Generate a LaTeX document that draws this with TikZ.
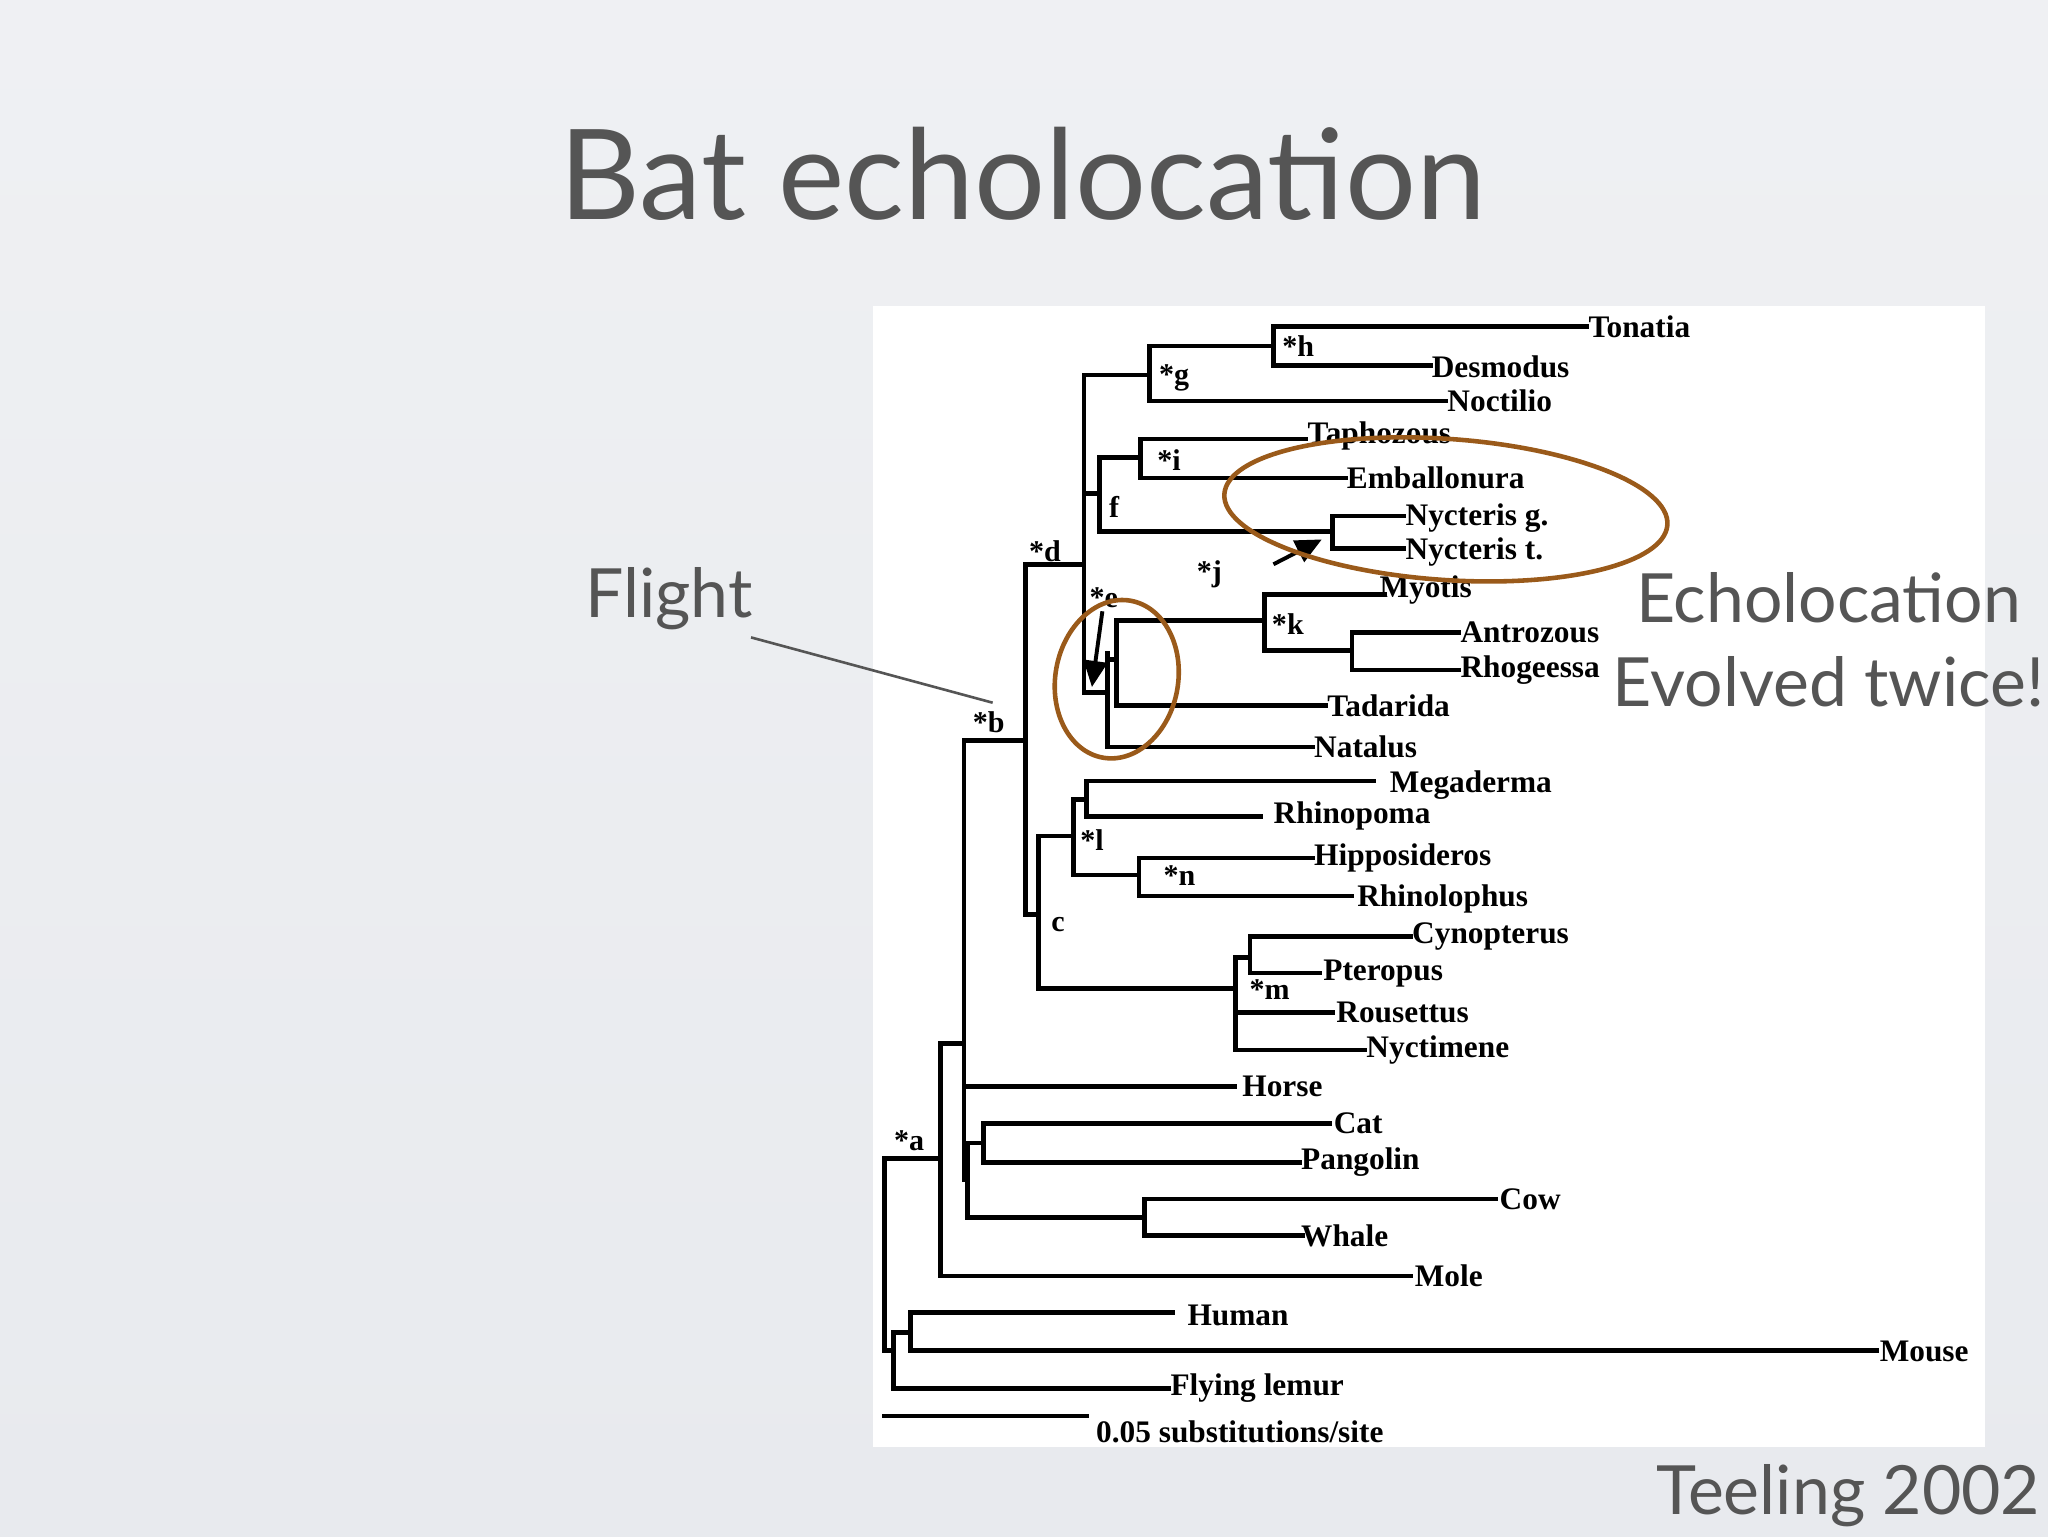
\documentclass[tikz,border=0pt]{standalone}
\usepackage{fontspec}
\setmainfont{Liberation Serif}
\newfontfamily\slidefont{Lato}
\usetikzlibrary{arrows.meta}
\definecolor{bg}{HTML}{E8EAEE}
\definecolor{txt}{HTML}{555555}
\definecolor{ring}{HTML}{9A5A1A}
\begin{document}
\begin{tikzpicture}[x=1pt,y=-1pt,
  br/.style={line width=3.6pt,line cap=rect},
  tx/.style={anchor=west,inner sep=1pt,font=\fontsize{24}{24}\selectfont\bfseries},
  lb/.style={inner sep=0pt,font=\fontsize{23}{23}\selectfont\bfseries},
  sl/.style={text=txt,inner sep=0pt,font=\slidefont\fontsize{52}{52}\selectfont}]
\shade[top color=bg!70!white,bottom color=bg] (0,0) rectangle (1568,1176);
\useasboundingbox (0,0) rectangle (1568,1176);
\fill[white] (668,234) rectangle (1520,1108);
\node[sl,font=\slidefont\fontsize{96}{96}\selectfont] (title) at (783,133) {Bat echolocation};
% tree
\draw[br] (975,250)--(1215,250) (975,280)--(1095,280) (975,250)--(975,280);
\draw[br] (880,265)--(975,265) (880,265)--(880,307) (880,307)--(1107,307);
\draw[br] (830,287)--(880,287) (830,287)--(830,530);
\draw[br] (873,336)--(1000,336) (873,366)--(1030,366) (873,336)--(873,366);
\draw[br] (842,350)--(873,350) (842,350)--(842,407) (830,378)--(842,378);
\draw[br] (842,407)--(1020,407) (1020,395)--(1020,420) (1020,395)--(1075,395) (1020,420)--(1075,420);
\draw[br] (830,530)--(848,530) (848,500)--(848,572) (848,572)--(1005,572);
\draw[br] (848,505)--(855,505) (855,475)--(855,540) (855,540)--(1015,540) (855,475)--(968,475);
\draw[br] (968,455)--(968,498) (968,455)--(1060,455) (968,498)--(1035,498);
\draw[br] (1035,484)--(1035,513) (1035,484)--(1117,484) (1035,513)--(1117,513);
\draw[br] (785,432)--(830,432) (785,432)--(785,700) (785,700)--(795,700);
\draw[br] (795,640)--(795,757) (795,640)--(822,640) (822,612)--(822,670);
\draw[br] (822,612)--(832,612) (832,598)--(832,625) (832,598)--(1052,598) (832,625)--(965,625);
\draw[br] (822,670)--(872,670) (872,657)--(872,686) (872,657)--(1005,657) (872,686)--(1035,686);
\draw[br] (795,757)--(946,757) (946,733)--(946,804) (946,733)--(957,733);
\draw[br] (957,717)--(957,745) (957,717)--(1080,717) (957,745)--(1010,745);
\draw[br] (946,775)--(1020,775) (946,804)--(1045,804);
\draw[br] (738,567)--(785,567) (738,567)--(738,903) (738,832)--(945,832);
\draw[br] (738,903)--(741,903) (741,875)--(741,932) (741,875)--(753,875);
\draw[br] (753,860)--(753,890) (753,860)--(1018,860) (753,890)--(995,890);
\draw[br] (741,932)--(876,932) (876,918)--(876,946) (876,918)--(1145,918) (876,946)--(997,946);
\draw[br] (720,799)--(738,799) (720,799)--(720,977) (720,977)--(1080,977);
\draw[br] (677,887)--(720,887) (677,887)--(677,1034) (677,1034)--(684,1034);
\draw[br] (684,1020)--(684,1063) (684,1063)--(895,1063) (684,1020)--(697,1020);
\draw[br] (697,1005)--(697,1034) (697,1005)--(898,1005) (697,1034)--(1437,1034);
\draw[br] (677,1084)--(832,1084);
% taxa
\node[tx] (t1) at (1215,250) {Tonatia};
\node[tx] (t2) at (1095,281) {Desmodus};
\node[tx] (t3) at (1107,307) {Noctilio};
\node[tx] (t4) at (1000,334) {Taphozous};
\node[tx] (t5) at (1030,366) {Emballonura};
\node[tx] (t6) at (1075,397) {Nycteris g.};
\node[tx] (t7) at (1075,423) {Nycteris t.};
\node[tx] (t8) at (1055,452) {Myotis};
\node[tx] (t9) at (1117,484) {Antrozous};
\node[tx] (t10) at (1117,513) {Rhogeessa};
\node[tx] (t11) at (1015,540) {Tadarida};
\node[tx] (t12) at (1005,572) {Natalus};
\node[tx] (t13) at (1063,601) {Megaderma};
\node[tx] (t14) at (974,625) {Rhinopoma};
\node[tx] (t15) at (1005,657) {Hipposideros};
\node[tx] (t16) at (1038,688) {Rhinolophus};
\node[tx] (t17) at (1080,717) {Cynopterus};
\node[tx] (t18) at (1012,745) {Pteropus};
\node[tx] (t19) at (1022,775) {Rousettus};
\node[tx] (t20) at (1045,804) {Nyctimene};
\node[tx] (t21) at (950,832) {Horse};
\node[tx] (t22) at (1020,860) {Cat};
\node[tx] (t23) at (995,890) {Pangolin};
\node[tx] (t24) at (1147,918) {Cow};
\node[tx] (t25) at (995,946) {Whale};
\node[tx] (t26) at (1082,977) {Mole};
\node[tx] (t27) at (908,1007) {Human};
\node[tx] (t28) at (1438,1035) {Mouse};
\node[tx] (t29) at (895,1063) {Flying lemur};
\node[tx] (scale) at (838,1096) {0.05 substitutions/site};
% node labels
\node[lb] (lh) at (994,265) {*h};
\node[lb] (lg) at (899,289) {*g};
\node[lb] (li) at (895,352) {*i};
\node[lb] (lf) at (853,388) {f};
\node[lb] (ld) at (800,422) {*d};
\node[lb] (lj) at (926,440) {*j};
\node[lb] (le) at (845,458) {*e};
\node[lb] (lk) at (986,478) {*k};
\node[lb] (lbb) at (757,553) {*b};
\node[lb] (ll) at (836,643) {*l};
\node[lb] (ln) at (903,670) {*n};
\node[lb] (lc) at (810,708) {c};
\node[lb] (lm) at (972,758) {*m};
\node[lb] (la) at (696,873) {*a};
% arrows
\coordinate (a1s) at (975,432); \coordinate (a1e) at (1012,413);
\draw[line width=3pt,-{Triangle[length=20pt,width=18pt]}] (a1s)--(a1e);
\coordinate (a2s) at (844,468); \coordinate (a2e) at (836,526);
\draw[line width=3pt,-{Triangle[length=20pt,width=18pt]}] (a2s)--(a2e);
% rings
\draw[ring,line width=3.5pt,rotate around={-4:(1107,390)}] (1107,390) ellipse [x radius=170,y radius=54];
\draw[ring,line width=3.5pt,rotate around={-10:(855,520)}] (855,520) ellipse [x radius=47,y radius=61];
% slide text
\node[sl] (flight) at (512,458) {Flight};
\coordinate (fs) at (575,488); \coordinate (fe) at (760,538);
\draw[txt,line width=2pt] (fs)--(fe);
\node[sl] (echo) at (1400,458) {Echolocation};
\node[sl] (evo) at (1400,522) {Evolved twice!};
\node[sl] (cite) at (1415,1145) {Teeling 2002};
\end{tikzpicture}
\end{document}
